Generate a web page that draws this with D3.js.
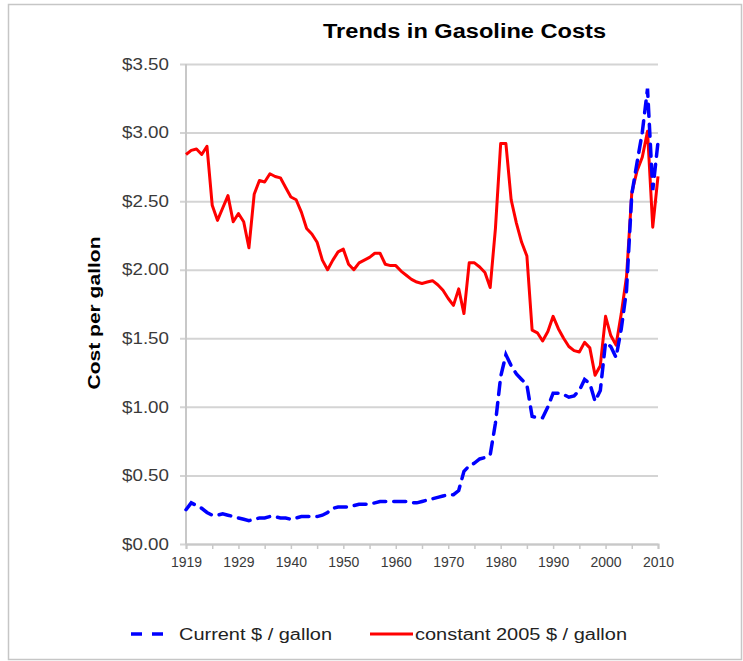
<!DOCTYPE html>
<html>
<head>
<meta charset="utf-8">
<script src="https://cdn.jsdelivr.net/npm/d3@7"></script>
<style>
  body { margin: 0; background: #fff; }
  text { font-family: Arial, "Liberation Sans", sans-serif; }
</style>
</head>
<body>
<svg id="chart"></svg>
<script>
// categories (one year missing in the 1930s, as in the source sheet)
const years = [1919,1920,1921,1922,1923,1924,1925,1926,1927,1928,1929,1930,1931,1932,1933,
  1935,1936,1937,1938,1939,1940,1941,1942,1943,1944,1945,1946,1947,1948,1949,
  1950,1951,1952,1953,1954,1955,1956,1957,1958,1959,1960,1961,1962,1963,1964,
  1965,1966,1967,1968,1969,1970,1971,1972,1973,1974,1975,1976,1977,1978,1979,
  1980,1981,1982,1983,1984,1985,1986,1987,1988,1989,1990,1991,1992,1993,1994,
  1995,1996,1997,1998,1999,2000,2001,2002,2003,2004,2005,2006,2007,2008,2009,2010];

const currentPrice = [0.25,0.30,0.28,0.26,0.23,0.21,0.21,0.22,0.21,0.20,
  0.19,0.18,0.17,0.18,0.19,0.19,0.20,0.20,0.19,0.19,
  0.18,0.19,0.20,0.20,0.20,0.20,0.21,0.23,0.26,0.27,
  0.27,0.27,0.28,0.29,0.29,0.29,0.30,0.31,0.31,0.31,
  0.31,0.31,0.31,0.30,0.30,0.31,0.32,0.33,0.34,0.35,
  0.36,0.36,0.39,0.53,0.57,0.59,0.62,0.63,0.65,0.88,
  1.22,1.38,1.30,1.24,1.20,1.16,0.93,0.92,0.92,1.00,
  1.10,1.10,1.09,1.07,1.08,1.12,1.20,1.17,1.04,1.12,
  1.47,1.44,1.36,1.57,1.85,2.55,2.78,3.00,3.32,2.58,2.93];

const constantPrice = [2.84,2.87,2.88,2.84,2.90,2.47,2.36,2.45,2.54,2.35,
  2.41,2.35,2.16,2.55,2.65,2.64,2.70,2.68,2.67,2.60,
  2.53,2.51,2.42,2.30,2.26,2.20,2.07,2.00,2.07,2.13,
  2.15,2.04,2.00,2.05,2.07,2.09,2.12,2.12,2.04,2.03,
  2.03,1.99,1.96,1.93,1.91,1.90,1.91,1.92,1.89,1.85,
  1.79,1.74,1.86,1.68,2.05,2.05,2.02,1.98,1.87,2.30,
  2.92,2.92,2.51,2.34,2.20,2.10,1.56,1.54,1.48,1.55,
  1.66,1.57,1.50,1.44,1.41,1.40,1.47,1.43,1.23,1.30,
  1.66,1.52,1.45,1.68,1.95,2.56,2.72,2.82,3.01,2.31,2.68];

const yTicks = [0, 0.5, 1, 1.5, 2, 2.5, 3, 3.5];
const xLabelYears = [1919,1929,1940,1950,1960,1970,1980,1990,2000,2010];

const width = 743, height = 661;
const svg = d3.select("#chart").attr("width", width).attr("height", height);

// outer frame
svg.append("rect")
  .attr("x", 8.5).attr("y", 4.5).attr("width", 733).attr("height", 655)
  .attr("fill", "#fff").attr("stroke", "#c6c6c6").attr("stroke-width", 1.5);

const x = d3.scalePoint().domain(years).range([186, 658]);
const y = d3.scaleLinear().domain([0, 3.5]).range([544, 64]);

// title
svg.append("text")
  .attr("x", 464.5).attr("y", 38)
  .attr("text-anchor", "middle")
  .attr("textLength", 283).attr("lengthAdjust", "spacingAndGlyphs")
  .style("font-size", "20px").style("font-weight", "bold").attr("fill", "#000")
  .text("Trends in Gasoline Costs");

// gridlines + y labels
const yAxis = d3.axisLeft(y).tickValues(yTicks)
  .tickSize(-(658 - 186)).tickPadding(17)
  .tickFormat(d => "$" + d.toFixed(2));
const gy = svg.append("g").attr("transform", "translate(186,0)").call(yAxis);
gy.select(".domain").remove();
gy.selectAll(".tick line").attr("stroke", "#d4d4d4").attr("stroke-width", 2).attr("x1", -6);
gy.selectAll(".tick text")
  .style("font-size", "16.5px").attr("fill", "#3a3a3a")
  .attr("textLength", 47).attr("lengthAdjust", "spacingAndGlyphs");

// y axis line
svg.append("line")
  .attr("x1", 186).attr("x2", 186).attr("y1", y(3.5)).attr("y2", y(0))
  .attr("stroke", "#c8c8c8").attr("stroke-width", 2);

// x axis
const xAxis = d3.axisBottom(x)
  .tickValues(years.filter((d, i) => i % 5 === 0))
  .tickSize(5).tickPadding(8)
  .tickFormat(d => xLabelYears.includes(d) ? d : "");
const gx = svg.append("g").attr("transform", `translate(0,${y(0)})`).call(xAxis);
gx.select(".domain").attr("stroke", "#c8c8c8").attr("stroke-width", 2);
gx.selectAll(".tick line").attr("stroke", "#c8c8c8").attr("stroke-width", 1.5);
gx.selectAll(".tick text").style("font-size", "14px").attr("fill", "#3a3a3a");

// y axis title
svg.append("text")
  .attr("transform", "translate(100,313) rotate(-90)")
  .attr("text-anchor", "middle")
  .attr("textLength", 153).attr("lengthAdjust", "spacingAndGlyphs")
  .style("font-size", "16px").style("font-weight", "bold").attr("fill", "#000")
  .text("Cost per gallon");

// lines
const line = d3.line().x((d, i) => x(years[i])).y(d => y(d));

svg.append("path")
  .datum(constantPrice)
  .attr("d", line)
  .attr("fill", "none").attr("stroke", "#ff0000").attr("stroke-width", 3)
  .attr("stroke-linejoin", "round");

svg.append("path")
  .datum(currentPrice)
  .attr("d", line)
  .attr("fill", "none").attr("stroke", "#0000ff").attr("stroke-width", 3.5)
  .attr("stroke-dasharray", "12,8").attr("stroke-linecap", "round");

// legend
const legend = svg.append("g");
legend.append("line")
  .attr("x1", 131).attr("x2", 163).attr("y1", 634).attr("y2", 634)
  .attr("stroke", "#0000ff").attr("stroke-width", 3.5).attr("stroke-dasharray", "11,10");
legend.append("text")
  .attr("x", 179).attr("y", 640)
  .attr("textLength", 153).attr("lengthAdjust", "spacingAndGlyphs")
  .style("font-size", "16px").attr("fill", "#222")
  .text("Current $ / gallon");
legend.append("line")
  .attr("x1", 370).attr("x2", 413).attr("y1", 634).attr("y2", 634)
  .attr("stroke", "#ff0000").attr("stroke-width", 3);
legend.append("text")
  .attr("x", 415).attr("y", 640)
  .attr("textLength", 212).attr("lengthAdjust", "spacingAndGlyphs")
  .style("font-size", "16px").attr("fill", "#222")
  .text("constant 2005 $ / gallon");
</script>
</body>
</html>
